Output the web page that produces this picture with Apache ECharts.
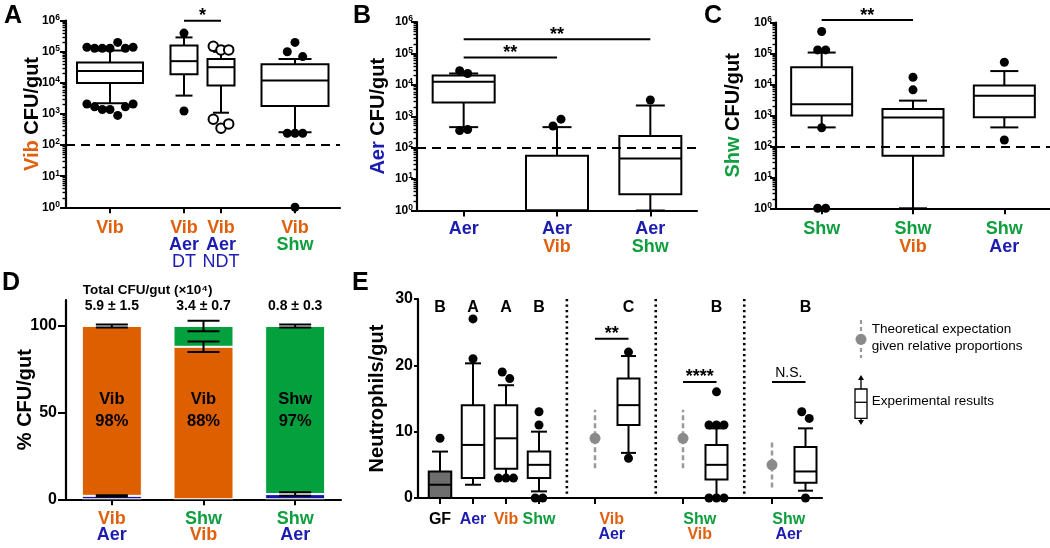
<!DOCTYPE html>
<html><head><meta charset="utf-8">
<script src="https://cdn.jsdelivr.net/npm/echarts@6/dist/echarts.min.js"></script>
<style>html,body{margin:0;padding:0;background:#fff}#c{width:1050px;height:548px}</style>
</head><body><div id="c"></div>
<script>
// ================= DATA =================
// Panel A: Vib CFU/gut (log)
const aSlots = ['Vib', '', 'Vib Aer DT', 'Vib Aer NDT', '', 'Vib Shw'];
const aGroups = ['Vib', 'Vib Aer DT', 'Vib Aer NDT', 'Vib Shw'];
const aLo  = [2.2e3, 3.9e3, 1.1e3, 2.6e2];
const aQ1  = [1.0e4, 1.9e4, 8.2e3, 1.8e3];
const aMed = [2.4e4, 5.0e4, 3.2e4, 1.2e4];
const aQ3  = [4.5e4, 1.6e5, 5.9e4, 4.0e4];
const aHi  = [1.1e5, 2.9e5, 1.0e5, 5.9e4];
const aOut = [
  [1.4e5, 1.3e5, 1.3e5, 1.3e5, 2.0e5, 1.3e5, 1.4e5, 2.1e3, 1.7e3, 1.4e3, 1.4e3, 0.9e3, 1.7e3, 2.1e3],
  [4.0e5, 1.25e3],
  [1.5e5, 1.15e5, 1.15e5, 6.8e2, 3.5e2, 4.8e2],
  [1.0e5, 2.0e5, 7.0e4, 2.4e2, 2.4e2, 2.4e2, 1]
];
const aHollow = [false, false, true, false];
const aSig = [['Vib Aer DT', 'Vib Aer NDT', 1e6, '*']];

// Panel B: Aer CFU/gut (log)
const bGroups = ['Aer', 'Aer Vib', 'Aer Shw'];
const bLo  = [4.5e2, 1, 1];
const bQ1  = [2.75e3, 1, 3.3];
const bMed = [1.25e4, 1, 45];
const bQ3  = [2.0e4, 55, 2.35e2];
const bHi  = [2.3e4, 4.5e2, 2.2e3];
const bOut = [[2.8e4, 2.3e4, 3.5e2, 3.8e2], [4.9e2, 8.1e2], [3.3e3]];
const bSig = [['Aer', 'Aer Vib', 7.4e4, '**'], ['Aer', 'Aer Shw', 2.8e5, '**']];

// Panel C: Shw CFU/gut (log)
const cGroups = ['Shw', 'Shw Vib', 'Shw Aer'];
const cLo  = [4.1e2, 1, 4.1e2];
const cQ1  = [1.0e3, 50, 8.7e2];
const cMed = [2.3e3, 8.5e2, 4.3e3];
const cQ3  = [3.6e4, 1.6e3, 9.3e3];
const cHi  = [1.07e5, 3.0e3, 2.7e4];
const cOut = [[5.1e5, 1.3e5, 1.3e5, 4.0e2, 1, 1], [1.7e4, 6.7e3], [5.2e4, 1.6e2]];
const cSig = [['Shw', 'Shw Vib', 1.2e6, '**']];

// Panel D: % CFU/gut stacked
const dGroups = ['Vib Aer', 'Shw Vib', 'Shw Aer'];
const dTotals = ['5.9 ± 1.5', '3.4 ± 0.7', '0.8 ± 0.3'];
const dBottomSp = ['Aer', 'Vib', 'Aer'];
const dBottom = [2, 88, 3];
const dBottomErr = [0.4, 3, 1];
const dTopSp = ['Vib', 'Shw', 'Shw'];
const dTop = [98, 12, 97];
const dTopErr = [0.9, 3, 0.9];
const dTicks = [0, 50, 100];

// Panel E: Neutrophils/gut
const e1Groups = ['GF', 'Aer', 'Vib', 'Shw'];
const e1Letters = ['B', 'A', 'A', 'B'];
const e1Lo  = [0, 2, 3, 1];
const e1Q1  = [0, 3, 4.4, 3];
const e1Med = [2, 8, 9, 5];
const e1Q3  = [4, 14, 14, 7];
const e1Hi  = [7, 20.3, 17, 10];
const e1Out = [[9], [27, 21], [19, 18, 3, 3, 3], [13, 11, 0, 0]];
const ePairs = ['Vib Aer', 'Shw Vib', 'Shw Aer'];
const ePairLetters = ['C', 'B', 'B'];
const eTheoLo = [4.5, 4.5, 1.6];
const eTheo   = [9, 9, 5];
const eTheoHi = [13.3, 13.3, 8.5];
const ePLo  = [6.8, 0, 1.1];
const ePQ1  = [11, 2.8, 2.3];
const ePMed = [14, 5, 4];
const ePQ3  = [18, 8, 7.7];
const ePHi  = [21.4, 10.5, 10.5];
const ePOut = [[22, 6], [16, 11, 11, 11, 0, 0, 0], [13, 12, 0]];
const ePSigY = [24, 17.5, 17.5];
const ePSigTxt = ['**', '****', 'N.S.'];

// ================= STYLE =================
const FONT = "'Liberation Sans', Arial, sans-serif";
const COL = {Vib: '#E0600D', Aer: '#1C1CB0', Shw: '#0F9F3F', GF: '#000000', DT: '#1C1CB0', NDT: '#1C1CB0'};
const BARCOL = {Vib: '#DD5F00', Aer: '#1414A6', Shw: '#04A03E'};
const AL = {color: '#000', width: 2.2};
const TK = {color: '#000', width: 2};

// log minor tick values (2..9 x 10^k) for the log axes
const logMinor = [];
for (let k = 0; k < 6; k++) for (let m = 2; m <= 9; m++) logMinor.push(m * Math.pow(10, k));

function richLab(fs, lh) {
  const r = {};
  Object.keys(COL).forEach(k => {
    r[k] = {color: COL[k], fontSize: fs, lineHeight: lh, fontFamily: FONT,
            fontWeight: (k === 'DT' || k === 'NDT') ? 'normal' : 'bold'};
  });
  return r;
}
const fmtLab = v => v ? v.split(' ').map(w => '{' + w + '|' + w + '}').join('\n') : '';
const supRich = {
  b: {fontSize: 12, fontWeight: 'bold', fontFamily: FONT, color: '#000', lineHeight: 15},
  s: {fontSize: 8.5, fontWeight: 'bold', fontFamily: FONT, color: '#000', verticalAlign: 'top', lineHeight: 8.5}
};
const logFmt = v => '{b|10}{s|' + Math.round(Math.log10(v)) + '}';
function nameStyle() {
  return {fontFamily: FONT, fontSize: 20, fontWeight: 'bold', color: '#000', verticalAlign: 'middle',
          rich: {Vib: {color: COL.Vib, fontSize: 20, fontWeight: 'bold', fontFamily: FONT},
                 Aer: {color: COL.Aer, fontSize: 20, fontWeight: 'bold', fontFamily: FONT},
                 Shw: {color: COL.Shw, fontSize: 20, fontWeight: 'bold', fontFamily: FONT}}};
}
const axisName = (name, gap) => ({name, nameLocation: 'middle', nameGap: gap, nameMoveOverlap: false, nameTextStyle: nameStyle()});

// ================= HELPERS =================
const grids = [], xAxes = [], yAxes = [], series = [], graphics = [];
const addGrid = g => (grids.push(g), grids.length - 1);
const addX = a => (xAxes.push(a), xAxes.length - 1);
const addY = a => (yAxes.push(a), yAxes.length - 1);

function catAxis(gi, data, margin, lh, fs, o) {
  return Object.assign({
    type: 'category', gridIndex: gi, data, boundaryGap: true, position: 'bottom',
    axisLine: {show: true, lineStyle: AL},
    axisTick: {show: true, alignWithLabel: true, length: 6, lineStyle: TK},
    axisLabel: {show: true, interval: 0, margin, formatter: fmtLab, rich: richLab(fs, lh)},
    splitLine: {show: false}
  }, o || {});
}
function lineOnlyX(gi) {
  return {type: 'value', gridIndex: gi, min: 0, max: 1, axisLine: {show: true, lineStyle: AL},
          axisTick: {show: false}, axisLabel: {show: false}, splitLine: {show: false}};
}
function logAxis(gi, margin, o) {
  return Object.assign({
    type: 'log', logBase: 10, gridIndex: gi, min: 1, max: 1e6, splitNumber: 6, position: 'left',
    axisLine: {show: true, lineStyle: AL},
    axisTick: {show: true, length: 6, lineStyle: TK},
    axisLabel: {margin, formatter: logFmt, rich: supRich},
    splitLine: {show: false}
  }, o || {});
}
// companion log axis drawing only the minor ticks
function logMinorAxis(gi) {
  return {type: 'log', logBase: 10, gridIndex: gi, min: 1, max: 1e6, position: 'left',
    axisLine: {show: false}, axisLabel: {show: false}, splitLine: {show: false},
    axisTick: {show: true, length: 3.5, lineStyle: {color: '#000', width: 1.4}, customValues: logMinor}};
}

function swarm(vals, isLog, thr, step) {
  const off = vals.map(() => 0);
  if (!vals.length) return off;
  const t = vals.map(v => isLog ? Math.log10(v) : v);
  const idx = vals.map((_, i) => i).sort((a, b) => t[a] - t[b]);
  const groups = []; let cur = [idx[0]];
  for (let k = 1; k < idx.length; k++) {
    if (t[idx[k]] - t[idx[k - 1]] < thr) cur.push(idx[k]); else { groups.push(cur); cur = [idx[k]]; }
  }
  groups.push(cur);
  groups.forEach(g => { g.sort((a, b) => a - b); g.forEach((i, j) => { off[i] = (j - (g.length - 1) / 2) * step; }); });
  return off;
}

function boxSeries(xi, yi, xs, lo, q1, med, q3, hi, boxW, capW, fills) {
  const data = xs.map((x, i) => [x, lo[i], q1[i], med[i], q3[i], hi[i]]);
  return {
    type: 'custom', xAxisIndex: xi, yAxisIndex: yi, z: 2, silent: true, data,
    encode: {x: 0, y: [1, 2, 3, 4, 5]},
    renderItem: (params, api) => {
      const i = params.dataIndex;
      const bw = Array.isArray(boxW) ? boxW[i] : boxW;
      const cw = Array.isArray(capW) ? capW[i] : capW;
      const fill = Array.isArray(fills) ? fills[i] : (fills || '#fff');
      const xv = api.value(0);
      const P = k => api.coord([xv, api.value(k)]);
      const cx = P(1)[0];
      const yLo = P(1)[1], yQ1 = P(2)[1], yMed = P(3)[1], yQ3 = P(4)[1], yHi = P(5)[1];
      const L = (x1, y1, x2, y2) => ({type: 'line', shape: {x1, y1, x2, y2}, style: {stroke: '#000', lineWidth: 2}});
      return {type: 'group', children: [
        L(cx, yLo, cx, yQ1), L(cx, yQ3, cx, yHi),
        L(cx - cw / 2, yLo, cx + cw / 2, yLo), L(cx - cw / 2, yHi, cx + cw / 2, yHi),
        {type: 'rect', shape: {x: cx - bw / 2, y: yQ3, width: bw, height: yQ1 - yQ3}, style: {fill, stroke: '#000', lineWidth: 2}},
        L(cx - bw / 2, yMed, cx + bw / 2, yMed)
      ]};
    }
  };
}
function outSeries(xi, yi, xs, outs, isLog, thr, step, hollow) {
  const data = [];
  xs.forEach((x, i) => {
    const vals = outs[i] || [];
    const off = swarm(vals, isLog, thr, step);
    vals.forEach((v, j) => data.push({value: [x, v], symbolOffset: [off[j], 0]}));
  });
  return {type: 'scatter', xAxisIndex: xi, yAxisIndex: yi, z: 3, silent: true, clip: false,
          symbol: 'circle', symbolSize: hollow ? 9.5 : 9, data,
          itemStyle: hollow ? {color: '#fff', borderColor: '#000', borderWidth: 2, opacity: 1} : {color: '#000', opacity: 1}};
}
function sigSeries(xi, yi, entries) {
  const texts = entries.map(e => e[3]);
  return {
    type: 'custom', xAxisIndex: xi, yAxisIndex: yi, z: 4, silent: true, clip: false,
    data: entries.map(e => [e[0], e[1], e[2]]), encode: {x: [0, 1], y: 2},
    renderItem: (params, api) => {
      const a = api.coord([api.value(0), api.value(2)]);
      const b = api.coord([api.value(1), api.value(2)]);
      const t = texts[params.dataIndex];
      const star = /^\*+$/.test(t);
      return {type: 'group', children: [
        {type: 'line', shape: {x1: a[0], y1: a[1], x2: b[0], y2: a[1]}, style: {stroke: '#000', lineWidth: 2}},
        {type: 'text', style: {text: t, x: (a[0] + b[0]) / 2, y: star ? a[1] + 4.5 : a[1] - 2,
          align: 'center', verticalAlign: 'bottom', fontSize: star ? 18 : 14,
          fontWeight: star ? 'bold' : 'normal', fontFamily: FONT, fill: '#000'}}
      ]};
    }
  };
}
function dashed100(xi, yi, x) {
  return {type: 'scatter', xAxisIndex: xi, yAxisIndex: yi, symbolSize: 0, silent: true, data: [[x, 100]],
          markLine: {silent: true, symbol: 'none', label: {show: false},
                     lineStyle: {color: '#000', width: 1.8, type: [9, 6]}, data: [{yAxis: 100}]}};
}

// ================= PANEL A =================
const gAf = addGrid({left: 66, top: 20.7, width: 274, height: 186.6});
const gAc = addGrid({left: 91.5, top: 20.7, width: 222, height: 186.6});
const xAf = addX(lineOnlyX(gAf));
const yAf = addY(logAxis(gAf, 6, axisName('{Vib|Vib} CFU/gut', 33.5)));
addY(logMinorAxis(gAf));
const xAc = addX(catAxis(gAc, aSlots, 12.5, 17, 18, {
  axisLine: {show: false},
  axisTick: {show: true, alignWithLabel: true, length: 6, lineStyle: TK, interval: (i, v) => v !== ''}
}));
const yAc = addY(logAxis(gAc, 6, {show: false}));
const aX = aGroups.map(g => aSlots.indexOf(g));
series.push(dashed100(xAf, yAf, 0.5));
series.push(boxSeries(xAc, yAc, aX, aLo, aQ1, aMed, aQ3, aHi, [66, 27, 27, 67], [34, 17, 16, 33]));
series.push(outSeries(xAc, yAc, aX.filter((_, i) => !aHollow[i]), aOut.filter((_, i) => !aHollow[i]), true, 0.32, 7.7, false));
series.push(outSeries(xAc, yAc, aX.filter((_, i) => aHollow[i]), aOut.filter((_, i) => aHollow[i]), true, 0.32, 7.7, true));
series.push(sigSeries(xAc, yAc, aSig.map(s => [aSlots.indexOf(s[0]), aSlots.indexOf(s[1]), s[2], s[3]])));

// ================= PANEL B =================
const gB = addGrid({left: 417, top: 22, width: 280, height: 188.5});
const xB = addX(catAxis(gB, bGroups, 9.5, 18, 18));
const yB = addY(logAxis(gB, 4, axisName('{Aer|Aer} CFU/gut', 39)));
addY(logMinorAxis(gB));
const bX = bGroups.map((_, i) => i);
series.push(dashed100(xB, yB, 0));
series.push(boxSeries(xB, yB, bX, bLo, bQ1, bMed, bQ3, bHi, 62, 29));
series.push(outSeries(xB, yB, bX, bOut, true, 0.32, 8, false));
series.push(sigSeries(xB, yB, bSig.map(s => [bGroups.indexOf(s[0]), bGroups.indexOf(s[1]), s[2], s[3]])));

// ================= PANEL C =================
const gC = addGrid({left: 776, top: 22.5, width: 274, height: 185.8});
const xC = addX(catAxis(gC, cGroups, 12, 18, 18));
const yC = addY(logAxis(gC, 4, axisName('{Shw|Shw} CFU/gut', 43)));
addY(logMinorAxis(gC));
const cX = cGroups.map((_, i) => i);
series.push(dashed100(xC, yC, 0));
series.push(boxSeries(xC, yC, cX, cLo, cQ1, cMed, cQ3, cHi, 61, 28));
series.push(outSeries(xC, yC, cX, cOut, true, 0.32, 8, false));
series.push(sigSeries(xC, yC, cSig.map(s => [cGroups.indexOf(s[0]), cGroups.indexOf(s[1]), s[2], s[3]])));

// ================= PANEL D =================
const gD = addGrid({left: 66, top: 300, width: 275, height: 199.3});
const xD = addX(catAxis(gD, dGroups, 11.7, 16, 18));
addX({type: 'category', gridIndex: gD, position: 'top', offset: -13, data: dTotals,
      axisLine: {show: false}, axisTick: {show: false},
      axisLabel: {interval: 0, margin: 0, fontSize: 14, fontWeight: 'bold', color: '#000', fontFamily: FONT}});
const yD = addY(Object.assign({type: 'value', gridIndex: gD, min: 0, max: 115,
  axisLine: {show: true, lineStyle: AL},
  axisTick: {show: true, length: 8, lineStyle: TK, customValues: dTicks},
  axisLabel: {customValues: dTicks, margin: 9, fontSize: 16, fontWeight: 'bold', color: '#000', fontFamily: FONT},
  splitLine: {show: false}}, axisName('% CFU/gut', 41)));
const barStyle = {borderColor: '#fff', borderWidth: 1};
series.push({type: 'bar', xAxisIndex: xD, yAxisIndex: yD, stack: 'd', barWidth: 60, silent: true,
  data: dBottom.map((v, i) => ({value: v, itemStyle: Object.assign({color: BARCOL[dBottomSp[i]]}, barStyle)}))});
series.push({type: 'bar', xAxisIndex: xD, yAxisIndex: yD, stack: 'd', barWidth: 60, silent: true,
  data: dTop.map((v, i) => ({value: v, itemStyle: Object.assign({color: BARCOL[dTopSp[i]]}, barStyle)}))});
// error bars
const errData = [];
dGroups.forEach((_, i) => {
  errData.push([i, dBottom[i], dBottomErr[i]]);
  errData.push([i, dBottom[i] + dTop[i], dTopErr[i]]);
});
series.push({type: 'custom', xAxisIndex: xD, yAxisIndex: yD, z: 5, silent: true, data: errData, encode: {x: 0, y: 1},
  renderItem: (params, api) => {
    const x = api.value(0), c = api.value(1), e = api.value(2);
    const lo = api.coord([x, c - e]), hi = api.coord([x, c + e]);
    const cx = lo[0], w = 16;
    const L = (x1, y1, x2, y2) => ({type: 'line', shape: {x1, y1, x2, y2}, style: {stroke: '#000', lineWidth: 2}});
    return {type: 'group', children: [L(cx, lo[1], cx, hi[1]), L(cx - w, lo[1], cx + w, lo[1]), L(cx - w, hi[1], cx + w, hi[1])]};
  }});
// in-bar labels: dominant species and its share, at half of the stack
const dLabel = dGroups.map((_, i) => dBottom[i] >= dTop[i] ? dBottomSp[i] + '\n' + dBottom[i] + '%' : dTopSp[i] + '\n' + dTop[i] + '%');
series.push({type: 'custom', xAxisIndex: xD, yAxisIndex: yD, z: 6, silent: true,
  data: dGroups.map((_, i) => [i, (dBottom[i] + dTop[i]) / 2]), encode: {x: 0, y: 1},
  renderItem: (params, api) => {
    const p = api.coord([api.value(0), api.value(1)]);
    return {type: 'text', style: {text: dLabel[params.dataIndex], x: p[0], y: p[1] - 2, align: 'center', verticalAlign: 'middle',
      fontSize: 16.5, fontWeight: 'bold', lineHeight: 22, fontFamily: FONT, fill: '#000'}};
  }});

// ================= PANEL E =================
const gEf = addGrid({left: 418, top: 299, width: 404, height: 199});
const xEf = addX(lineOnlyX(gEf));
const eYAxis = (gi, show) => ({type: 'value', gridIndex: gi, min: 0, max: 30, interval: 10, show,
  axisLine: {show: true, lineStyle: AL}, axisTick: {show: true, length: 4, lineStyle: TK},
  axisLabel: {margin: 5, fontSize: 16, fontWeight: 'bold', color: '#000', fontFamily: FONT}, splitLine: {show: false}});
const yEf = addY(Object.assign(eYAxis(gEf, true), axisName('Neutrophils/gut', 40.5)));
const letterAxis = (gi, data) => ({type: 'category', gridIndex: gi, position: 'top', offset: -16.7, data,
  axisLine: {show: false}, axisTick: {show: false},
  axisLabel: {interval: 0, margin: 0, fontSize: 16, fontWeight: 'bold', color: '#000', fontFamily: FONT}});
// singles
const gE1 = addGrid({left: 423.5, top: 299, width: 132, height: 199});
const xE1 = addX(catAxis(gE1, e1Groups, 14.5, 15, 16, {axisLine: {show: false}}));
addX(letterAxis(gE1, e1Letters));
const yE1 = addY(eYAxis(gE1, false));
const e1X = e1Groups.map((_, i) => i);
series.push(boxSeries(xE1, yE1, e1X, e1Lo, e1Q1, e1Med, e1Q3, e1Hi, 22.5, 16, ['#6E6E6E', '#fff', '#fff', '#fff']));
series.push(outSeries(xE1, yE1, e1X, e1Out, false, 1.5, 7.5, false));
// pairs: theoretical expectation + experimental result
const pairLeft = [578.25, 666.25, 755.25];
const pairW = 67;
ePairs.forEach((p, i) => {
  const g = addGrid({left: pairLeft[i], top: 299, width: pairW, height: 199});
  const xt = addX(catAxis(g, ['expected', 'observed'], 14.5, 15, 16, {axisLine: {show: false}, axisLabel: {show: false}}));
  addX(catAxis(g, [p], 14.5, 15, 16, {axisLine: {show: false}, axisTick: {show: false}}));
  addX(letterAxis(g, ['', ePairLetters[i]]));
  const yi = addY(eYAxis(g, false));
  series.push({type: 'custom', xAxisIndex: xt, yAxisIndex: yi, z: 3, silent: true,
    data: [[0, eTheoLo[i], eTheo[i], eTheoHi[i]]], encode: {x: 0, y: [1, 2, 3]},
    renderItem: (params, api) => {
      const lo = api.coord([0, api.value(1)]), mid = api.coord([0, api.value(2)]), hi = api.coord([0, api.value(3)]);
      return {type: 'group', children: [
        {type: 'line', shape: {x1: lo[0], y1: lo[1], x2: hi[0], y2: hi[1]}, style: {stroke: '#9a9a9a', lineWidth: 2.5, lineDash: [5, 3]}},
        {type: 'circle', shape: {cx: mid[0], cy: mid[1], r: 5.5}, style: {fill: '#8a8a8a'}}
      ]};
    }});
  series.push(boxSeries(xt, yi, [1], [ePLo[i]], [ePQ1[i]], [ePMed[i]], [ePQ3[i]], [ePHi[i]], 22, 15));
  series.push(outSeries(xt, yi, [1], [ePOut[i]], false, 1.5, 7.5, false));
  series.push(sigSeries(xt, yi, [[0, 1, ePSigY[i], ePSigTxt[i]]]));
});
// dotted separators midway between the groups
const edges = [[423.5 + 132, pairLeft[0]], [pairLeft[0] + pairW, pairLeft[1]], [pairLeft[1] + pairW, pairLeft[2]]];
edges.forEach(e => {
  const x = (e[0] + e[1]) / 2;
  graphics.push({type: 'line', shape: {x1: x, y1: 299, x2: x, y2: 498}, style: {stroke: '#000', lineWidth: 2.6, lineDash: [2.2, 3.3]}, silent: true});
});

// ================= ANNOTATIONS =================
const letter = (t, x, y) => ({type: 'text', left: x, top: y, silent: true, style: {text: t, font: 'bold 25px ' + FONT, fill: '#000'}});
graphics.push(letter('A', 4, 4), letter('B', 353, 4), letter('C', 704, 4), letter('D', 2, 271), letter('E', 352, 271));
graphics.push({type: 'text', left: 82.7, top: 283.5, silent: true, style: {text: 'Total CFU/gut (×10⁴)', font: 'bold 13.5px ' + FONT, fill: '#000'}});
// legend for panel E
const lt = (t, y) => ({type: 'text', left: 871.7, top: y, silent: true, style: {text: t, font: '13.5px ' + FONT, fill: '#000'}});
graphics.push(
  {type: 'line', silent: true, shape: {x1: 861, y1: 320, x2: 861, y2: 358}, style: {stroke: '#9a9a9a', lineWidth: 2.2, lineDash: [4, 3]}},
  {type: 'circle', silent: true, shape: {cx: 861, cy: 339.3, r: 5.5}, style: {fill: '#8a8a8a'}},
  lt('Theoretical expectation', 322), lt('given relative proportions', 339.5),
  {type: 'line', silent: true, shape: {x1: 861, y1: 377, x2: 861, y2: 423}, style: {stroke: '#000', lineWidth: 1.3}},
  {type: 'polygon', silent: true, shape: {points: [[858, 380], [864, 380], [861, 375]]}, style: {fill: '#000'}},
  {type: 'polygon', silent: true, shape: {points: [[858, 420], [864, 420], [861, 425]]}, style: {fill: '#000'}},
  {type: 'rect', silent: true, shape: {x: 855, y: 389, width: 12, height: 29.3}, style: {fill: '#fff', stroke: '#000', lineWidth: 1.3}},
  {type: 'line', silent: true, shape: {x1: 855, y1: 402.3, x2: 867, y2: 402.3}, style: {stroke: '#000', lineWidth: 1.3}},
  lt('Experimental results', 394)
);

const chart = echarts.init(document.getElementById('c'), null, {renderer: 'canvas'});
chart.setOption({
  animation: false,
  backgroundColor: '#fff',
  textStyle: {fontFamily: FONT},
  grid: grids, xAxis: xAxes, yAxis: yAxes, series, graphic: graphics
});
</script>
</body></html>
